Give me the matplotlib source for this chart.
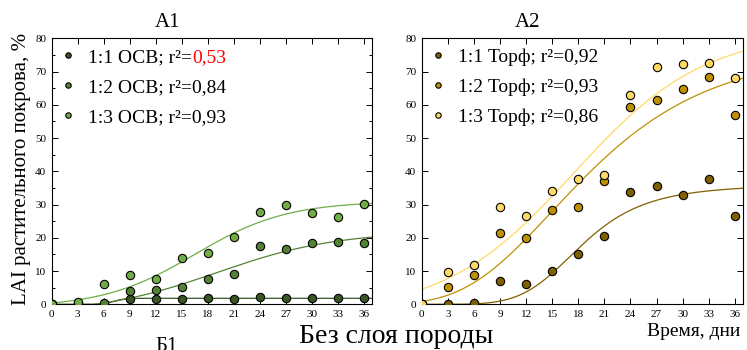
import numpy as np
import matplotlib
matplotlib.use("Agg")
import matplotlib.pyplot as plt
from matplotlib.ticker import MultipleLocator
from matplotlib.transforms import IdentityTransform

plt.rcParams['font.family'] = ['Liberation Serif', 'DejaVu Serif']

# ---------------- data ----------------
days = [0, 3, 6, 9, 12, 15, 18, 21, 24, 27, 30, 33, 36]

osv_11 = [0, 0, 0, 1.6, 1.6, 1.7, 1.8, 1.6, 2.1, 1.9, 1.9, 1.8, 1.9]
osv_12 = [0, 0, 0.3, 4.0, 4.3, 5.1, 7.6, 9.0, 17.6, 16.6, 18.5, 18.6, 18.5]
osv_13 = [0, 0.8, 6.2, 8.7, 7.5, 13.8, 15.5, 20.1, 27.9, 29.9, 27.6, 26.4, 30.2]

torf_11 = [0, 0.1, 0.3, 7.0, 6.2, 10.0, 15.1, 20.5, 33.7, 35.6, 32.9, 37.6, 26.6]
torf_12 = [0, 5.3, 8.8, 21.3, 19.9, 28.5, 29.4, 37.2, 59.4, 61.3, 64.6, 68.4, 56.9]
torf_13 = [0, 9.8, 11.8, 29.4, 26.5, 34.2, 37.6, 38.9, 63.0, 71.3, 72.4, 72.7, 68.0]

osv_labels = ["1:1 ОСВ; r²=", "1:2 ОСВ; r²=0,84", "1:3 ОСВ; r²=0,93"]
torf_labels = ["1:1 Торф; r²=0,92", "1:2 Торф; r²=0,93", "1:3 Торф; r²=0,86"]
osv_r2_first = "0,53"

# fitted growth-model parameters
osv_fits = [("boltzmann", (0.0, 1.8, 7.2, 0.6)),
            ("boltzmann", (-3.0, 22.0, 19.0, 7.0)),
            ("boltzmann", (-1.0, 31.0, 16.5, 5.3))]
torf_fits = [("hill", (0.0, 36.0, 18.5, 5.0)),
             ("gompertz", (76.0, 15.0, 0.1)),
             ("boltzmann", (-3.0, 82.0, 17.5, 7.5))]

green_cols = ["#375623", "#548235", "#70AD47"]
gold_cols = ["#7F6000", "#BF9000", "#FFD966"]


def model(kind, p, x):
    if kind == "boltzmann":
        a1, a2, x0, dx = p
        return a2 + (a1 - a2) / (1 + np.exp((x - x0) / dx))
    if kind == "hill":
        a1, a2, x0, pw = p
        return a2 + (a1 - a2) / (1 + (x / x0) ** pw)
    if kind == "gompertz":
        a, xc, k = p
        return a * np.exp(-np.exp(-k * (x - xc)))


fig = plt.figure(figsize=(7.47, 3.5), dpi=100)
ax1 = fig.add_axes([0.0692, 0.1306, 0.4294, 0.76])
ax2 = fig.add_axes([0.5645, 0.1306, 0.4308, 0.76])

xs = np.linspace(0, 37, 400)


def draw(ax, series, fits, cols, labels, minor):
    for ys, (kind, p), c, lab in zip(series, fits, cols, labels):
        ax.plot(xs, model(kind, p, xs), color=c, lw=0.9, zorder=2)
        ax.plot(days, ys, 'o', ms=6, mfc=c, mec='black', mew=0.8,
                label=lab, zorder=3)
    ax.set_xlim(0, 37)
    ax.set_ylim(0, 80)
    ax.xaxis.set_major_locator(MultipleLocator(3))
    ax.yaxis.set_major_locator(MultipleLocator(10))
    if minor:
        ax.yaxis.set_minor_locator(MultipleLocator(5))
    ax.tick_params(which='both', direction='in', top=True, right=True,
                   labelsize=8, width=0.7)
    ax.tick_params(which='major', length=4)
    ax.tick_params(which='minor', length=2)
    ax.tick_params(axis='y', pad=4)
    ax.tick_params(axis='x', pad=4)
    for s in ax.spines.values():
        s.set_linewidth(0.8)
    leg = ax.legend(loc='upper left', bbox_to_anchor=(0.0228, 0.962),
                    frameon=False, fontsize=14, handlelength=0.95,
                    handletextpad=0.55, borderpad=0, borderaxespad=0,
                    labelspacing=0.63, markerscale=0.65)
    return leg


leg1 = draw(ax1, [osv_11, osv_12, osv_13], osv_fits, green_cols, osv_labels, True)
leg2 = draw(ax2, [torf_11, torf_12, torf_13], torf_fits, gold_cols, torf_labels, False)

fig.text(0.2249, 0.9238, "A1", fontsize=15, ha='center', va='baseline')
fig.text(0.7068, 0.9238, "A2", fontsize=15, ha='center', va='baseline')
fig.text(0.2236, -0.004, "Б1", fontsize=15, ha='center', va='baseline')
fig.text(0.531, 0.02, "Без слоя породы", fontsize=20, ha='center', va='baseline')
fig.text(0.9906, 0.04, "Время, дни", fontsize=14, ha='right', va='baseline')
fig.text(0.029, 0.517, "LAI растительного покрова, %", fontsize=15,
         rotation=90, ha='center', va='center')

fig.canvas.draw()
renderer = fig.canvas.get_renderer()
t0 = leg1.get_texts()[0]
bb = t0.get_window_extent(renderer)
fig.text(bb.x1, bb.y0, osv_r2_first, color='red', fontsize=14,
         ha='left', va='bottom', transform=IdentityTransform())

fig.savefig("out.png", dpi=100)
